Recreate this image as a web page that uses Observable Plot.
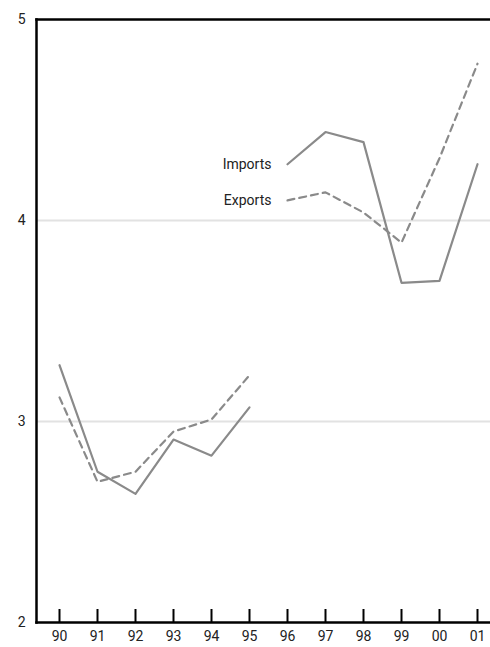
<!DOCTYPE html>
<html>
<head>
<meta charset="utf-8">
<script src="https://cdn.jsdelivr.net/npm/d3@7"></script>
<script src="https://cdn.jsdelivr.net/npm/@observablehq/plot@0.6"></script>
<style>
  html, body { margin: 0; padding: 0; background: #fff; }
</style>
</head>
<body>
<div id="chart"></div>
<script>
const years = ["90","91","92","93","94","95","96","97","98","99","00","01"];
const imports = [3.28, 2.75, 2.64, 2.91, 2.83, 3.07, 4.28, 4.44, 4.39, 3.69, 3.70, 4.28];
const exportsV = [3.12, 2.70, 2.75, 2.95, 3.01, 3.23, 4.10, 4.14, 4.04, 3.89, 4.31, 4.78];
const yTicks = [2, 3, 4, 5];
const gridValues = [3, 4];
const seriesLabels = ["Imports", "Exports"];

const rows = (vals) => years.map((yr, i) => ({year: yr, value: vals[i], seg: i < 6 ? "a" : "b"}));
const impRows = rows(imports);
const expRows = rows(exportsV);
const labelRows = [
  {year: years[6], value: imports[6], label: seriesLabels[0]},
  {year: years[6], value: exportsV[6], label: seriesLabels[1]}
];

const lineColor = "#8a8a8a";

const chart = Plot.plot({
  width: 490,
  height: 647,
  marginLeft: 36,
  marginRight: 0,
  marginTop: 19,
  marginBottom: 25,
  style: {fontFamily: "Roboto, 'Open Sans', sans-serif", fontSize: "14px", color: "#222", background: "#fff"},
  x: {type: "point", domain: years, range: [56, 480], padding: 0, label: null},
  y: {domain: [2, 5], label: null},
  marks: [
    Plot.gridY(gridValues, {stroke: "#e2e2e2", strokeOpacity: 1, strokeWidth: 2}),
    Plot.axisY({ticks: yTicks, tickSize: 0, tickPadding: 11, fontSize: 14, tickFormat: d => String(d), label: null}),
    Plot.axisX({tickSize: -13, strokeWidth: 2, stroke: "#000", text: null, label: null}),
    Plot.axisX({tickSize: 0, tickPadding: 9, fontSize: 14, label: null}),
    Plot.lineY(impRows, {x: "year", y: "value", z: "seg", stroke: lineColor, strokeWidth: 2.2, curve: "linear"}),
    Plot.lineY(expRows, {x: "year", y: "value", z: "seg", stroke: lineColor, strokeWidth: 2.2, strokeDasharray: "7,5", curve: "linear"}),
    Plot.text(labelRows, {x: "year", y: "value", text: "label", textAnchor: "end", dx: -16, fontSize: 14, fill: "#222"}),
    Plot.frame({anchor: "left", stroke: "#000", strokeWidth: 2.5}),
    Plot.frame({anchor: "top", stroke: "#000", strokeWidth: 2.5}),
    Plot.frame({anchor: "bottom", stroke: "#000", strokeWidth: 2.5})
  ]
});
document.getElementById("chart").appendChild(chart);
</script>
</body>
</html>
